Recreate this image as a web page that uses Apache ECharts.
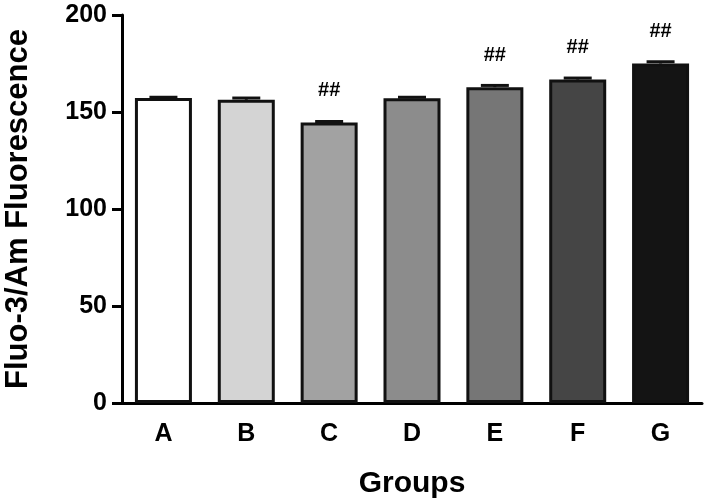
<!DOCTYPE html>
<html><head><meta charset="utf-8">
<script src="https://cdn.jsdelivr.net/npm/echarts@6/dist/echarts.min.js"></script>
<style>html,body{margin:0;padding:0;background:#fff}#c{width:708px;height:501px}</style>
</head><body><div id="c"></div>
<script>
var categories = ['A','B','C','D','E','F','G'];
var values = [157.2, 156.3, 144.6, 157.1, 162.8, 166.7, 175.0];
var errors = [0.4, 0.9, 0.5, 0.5, 0.9, 0.8, 0.9];
var colors = ['#ffffff','#d4d4d4','#a2a2a2','#8c8c8c','#767676','#454545','#141414'];
var marks = ['', '', '##', '', '##', '##', '##'];
var yTicks = [0, 50, 100, 150, 200];

var chart = echarts.init(document.getElementById('c'));
var font = 'Liberation Sans, Arial, sans-serif';
chart.setOption({
  animation: false,
  grid: {left: 122, top: 15, right: 6, bottom: 98, containLabel: false, outerBoundsMode: 'none'},
  xAxis: {
    type: 'category', data: categories,
    name: 'Groups', nameLocation: 'middle', nameGap: 66,
    nameTextStyle: {fontFamily: font, fontWeight: 'bold', fontSize: 30, color: '#000'},
    axisLine: {lineStyle: {color: '#000', width: 3}},
    axisTick: {alignWithLabel: true, length: 10, lineStyle: {color: '#000', width: 3}},
    axisLabel: {fontFamily: font, fontWeight: 'bold', fontSize: 25, color: '#000', margin: 19}
  },
  yAxis: {
    type: 'value', min: 0, max: 200, interval: 50,
    name: 'Fluo-3/Am Fluorescence', nameLocation: 'middle', nameGap: 88,
    nameTextStyle: {fontFamily: font, fontWeight: 'bold', fontSize: 31, color: '#000'},
    axisLine: {show: true, lineStyle: {color: '#000', width: 3}},
    axisTick: {show: true, length: 10, lineStyle: {color: '#000', width: 3}},
    axisLabel: {fontFamily: font, fontWeight: 'bold', fontSize: 25, color: '#000', margin: 15,
      formatter: function(v){ return yTicks.indexOf(v) >= 0 ? String(v) : ''; }},
    splitLine: {show: false}
  },
  series: [{
    type: 'bar',
    barWidth: 57,
    data: values.map(function(v, i){
      return {value: v, itemStyle: {color: colors[i]},
        label: {show: marks[i] !== '', formatter: marks[i]}};
    }),
    itemStyle: {borderColor: '#111', borderWidth: 3},
    label: {position: 'top', distance: 22, fontFamily: font, fontWeight: 'bold', fontSize: 20, color: '#000'}
  }, {
    type: 'custom',
    data: values.map(function(v, i){ return [i, v, errors[i]]; }),
    renderItem: function(params, api){
      var x = api.value(0), v = api.value(1), e = api.value(2);
      var top = api.coord([x, v + e]);
      var base = api.coord([x, v]);
      var half = 14;
      return {type: 'group', children: [
        {type: 'line', shape: {x1: top[0], y1: top[1], x2: top[0], y2: base[1]}, style: {stroke: '#111', lineWidth: 3}},
        {type: 'line', shape: {x1: top[0]-half, y1: top[1], x2: top[0]+half, y2: top[1]}, style: {stroke: '#111', lineWidth: 3}}
      ]};
    },
    z: 3
  }]
});
</script></body></html>
